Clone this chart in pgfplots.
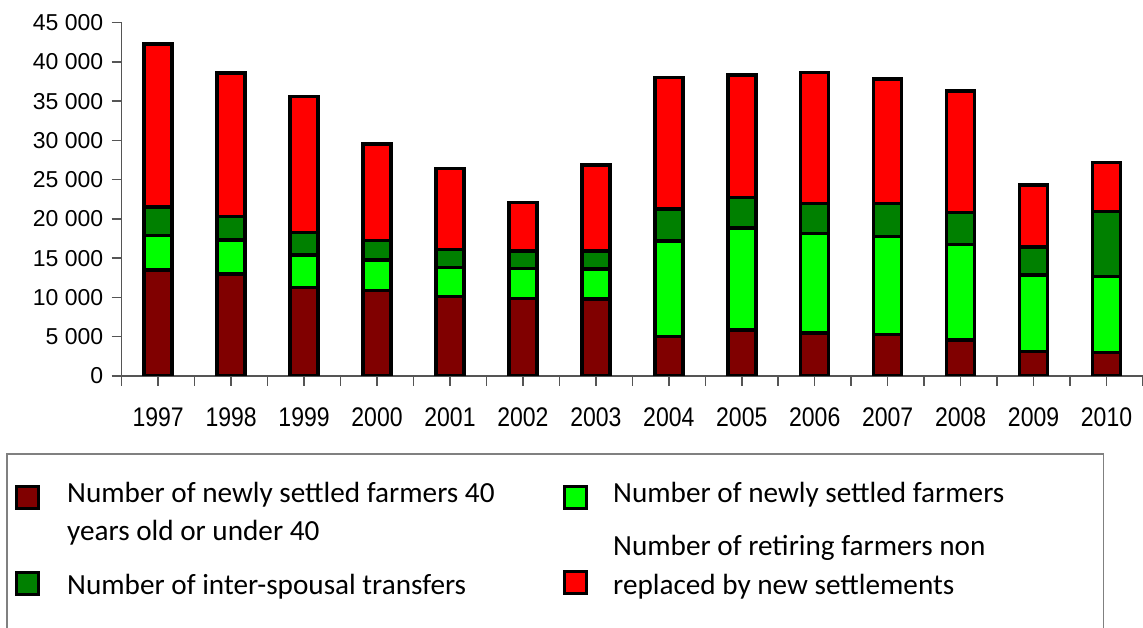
\documentclass[border=0pt]{standalone}
\usepackage{fontspec}
\setmainfont{Liberation Sans}
\newfontfamily\calibri{Carlito}
\usepackage{pgfplots}
\pgfplotsset{compat=1.18}
\usepackage{pgfplotstable}

\definecolor{dkred}{HTML}{800000}
\definecolor{ltgreen}{HTML}{00FF00}
\definecolor{dkgreen}{HTML}{008000}
\definecolor{brred}{HTML}{FF0000}
\definecolor{axisgray}{HTML}{555555}

% idx 0 = 1997 ... 13 = 2010
\pgfplotstableread{
idx young settled spousal retiring
0  13500  4400 3600 20800
1  13000  4300 3000 18300
2  11300  4100 2900 17300
3  10900  3900 2450 12300
4  10100  3700 2300 10300
5   9900  3800 2250  6150
6   9800  3800 2350 10900
7   5000 12200 4050 16800
8   5850 13000 3900 15600
9   5450 12700 3800 16700
10  5300 12450 4250 15800
11  4600 12150 4050 15500
12  3100  9750 3550  7950
13  3000  9650 8300  6250
}\farmers

\newcommand{\entry}[2]{\hspace*{#1}\raisebox{0pt}[25pt][11pt]{#2}}
\newcommand{\yr}[1]{\scalebox{1}[1.17]{#1}}

\begin{document}
\begin{tikzpicture}
\begin{axis}[
  scale only axis, width=1021.3pt, height=353.3pt,
  ybar stacked, bar width=28pt,
  xmin=-0.5, xmax=13.5, ymin=0, ymax=45000,
  enlargelimits=false,
  axis x line*=bottom, axis y line*=left,
  axis line style={draw=axisgray, line width=1.5pt},
  xtick={0,...,13},
  xticklabels={\yr{1997},\yr{1998},\yr{1999},\yr{2000},\yr{2001},\yr{2002},\yr{2003},
    \yr{2004},\yr{2005},\yr{2006},\yr{2007},\yr{2008},\yr{2009},\yr{2010}},
  minor xtick={-0.5,0.5,...,13.5},
  ytick={0,5000,...,45000},
  major tick length=10pt, minor tick length=10pt,
  tick align=outside,
  tick style={draw=axisgray, line width=1.5pt},
  minor tick style={draw=axisgray, line width=1.5pt},
  scaled y ticks=false,
  tick label style={font=\fontsize{23}{27}\selectfont, text=black},
  yticklabel style={/pgf/number format/1000 sep={\ }, /pgf/number format/assume math mode=true, xshift=-5pt},
  xticklabel style={yshift=-18.5pt},
  legend columns=2,
  legend style={name=lgd, at={(axis description cs:-0.1123,-0.2208)}, anchor=north west,
    draw=none, inner xsep=8pt, inner ysep=23pt,
    column sep=0pt, row sep=59pt,
    font=\calibri\fontsize{29.2}{38.5}\selectfont,
    nodes={inner sep=0pt, anchor=base west}},
  legend image code/.code={\draw[#1, draw=black, line width=3pt] (0pt,0pt) rectangle (22pt,22pt);},
]
\addplot[fill=dkred, draw=black, line width=3.5pt, legend image post style={yshift=-6.5pt}]
  table[x=idx, y=young]{\farmers};
\addlegendentry{\entry{27pt}{\parbox[t]{496pt}{Number of newly settled farmers 40\\years old or under 40}}}
\addplot[fill=ltgreen, draw=black, line width=3.5pt, legend image post style={yshift=-6.5pt}]
  table[x=idx, y=settled]{\farmers};
\addlegendentry{\entry{25pt}{\parbox[t]{482pt}{Number of newly settled farmers}}}
\addplot[fill=dkgreen, draw=black, line width=3.5pt, legend image post style={yshift=0pt}]
  table[x=idx, y=spousal]{\farmers};
\addlegendentry{\entry{27pt}{\parbox[b]{496pt}{Number of inter-spousal transfers}}}
\addplot[fill=brred, draw=black, line width=3.5pt, legend image post style={yshift=1pt}]
  table[x=idx, y=retiring]{\farmers};
\addlegendentry{\entry{25pt}{\parbox[b]{482pt}{Number of retiring farmers non\\replaced by new settlements}}}
\end{axis}
% legend frame: open at the bottom, running past the lower edge of the page
\draw[gray, line width=1.5pt] ([yshift=-300pt]lgd.north west) -- (lgd.north west)
  -- (lgd.north east) -- ([yshift=-300pt]lgd.north east);
\pgfresetboundingbox
\useasboundingbox (-121.7pt,-252pt) rectangle (1021.3pt,376pt);
\end{tikzpicture}
\end{document}
